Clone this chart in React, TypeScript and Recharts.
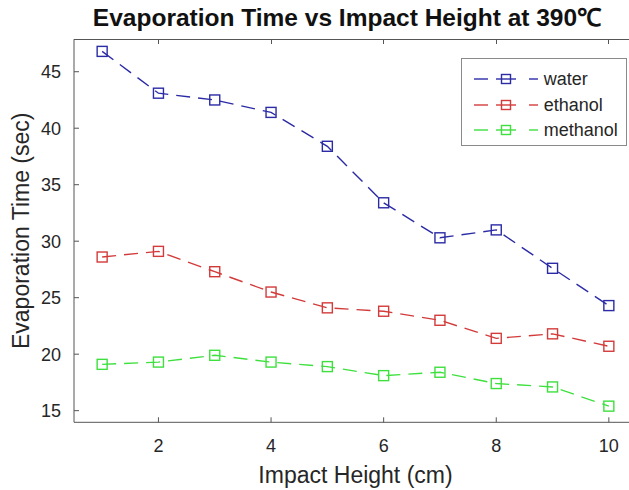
import { LineChart, Line, XAxis, YAxis, Legend } from 'recharts';

const heights = [1, 2, 3, 4, 5, 6, 7, 8, 9, 10];
const water = [46.8, 43.1, 42.5, 41.4, 38.4, 33.4, 30.3, 31.0, 27.6, 24.3];
const ethanol = [28.6, 29.1, 27.3, 25.5, 24.1, 23.8, 23.0, 21.4, 21.8, 20.7];
const methanol = [19.1, 19.3, 19.9, 19.3, 18.9, 18.1, 18.4, 17.4, 17.1, 15.4];

const xTicks = [2, 4, 6, 8, 10];
const yTicks = [15, 20, 25, 30, 35, 40, 45];

const X_DOMAIN = [0.5, 10.5];
const Y_DOMAIN = [13.97, 47.87];

const series = [
  { key: 'water', color: '#2b2ba6' },
  { key: 'ethanol', color: '#d33b3b' },
  { key: 'methanol', color: '#3ee03e' },
];

const data = heights.map((h, i) => ({
  h,
  water: water[i],
  ethanol: ethanol[i],
  methanol: methanol[i],
}));

const FONT = '"Liberation Sans", Arial, Helvetica, sans-serif';
const AXIS = '#555';
const TEXT = '#262626';
const DASH = '14 8';

const CHART_W = 666.5;
const PLOT_TOP = 39.3;
const LEFT_W = 74;
const RIGHT_W = 29.5;
const PLOT_W = CHART_W - LEFT_W - RIGHT_W;

// hollow square marker, line shows through like matlab 's'
const Square = (color: string) => (props: any) => {
  const { cx, cy, index } = props;
  if (cx == null || cy == null) return <g key={index} />;
  return (
    <rect
      key={index}
      x={cx - 5}
      y={cy - 5}
      width={10}
      height={10}
      fill="none"
      stroke={color}
      strokeWidth={1.4}
    />
  );
};

const LegendBox = () => (
  <div
    style={{
      position: 'relative',
      width: 166,
      height: 88,
      border: '1px solid #8a8a8a',
      background: '#fff',
      fontFamily: FONT,
      fontSize: 18,
      color: TEXT,
      boxSizing: 'border-box',
    }}>
    {series.map((s, i) => (
      <div
        key={s.key}
        style={{ position: 'absolute', top: 9 + i * 25.4, left: 0, height: 22, display: 'flex', alignItems: 'center' }}>
        <svg width={82} height={22}>
          <line x1={12} y1={11} x2={26} y2={11} stroke={s.color} strokeWidth={1.4} />
          <line x1={34} y1={11} x2={54} y2={11} stroke={s.color} strokeWidth={1.4} />
          <line x1={67} y1={11} x2={76} y2={11} stroke={s.color} strokeWidth={1.4} />
          <rect x={39.5} y={6.5} width={9} height={9} fill="none" stroke={s.color} strokeWidth={1.4} />
        </svg>
        <span style={{ lineHeight: '22px' }}>{s.key}</span>
      </div>
    ))}
  </div>
);

// top edge of the matlab box with inward ticks (html border so it always shows)
const TopFrame = () => {
  const tx = (t: number) => LEFT_W + ((t - X_DOMAIN[0]) / (X_DOMAIN[1] - X_DOMAIN[0])) * PLOT_W;
  return (
    <div style={{ position: 'absolute', left: 0, top: 0, width: CHART_W, height: 50, zIndex: 10, pointerEvents: 'none' }}>
      <div
        style={{
          position: 'absolute',
          left: LEFT_W - 0.5,
          top: 39,
          width: PLOT_W,
          height: 0,
          borderTop: `1px solid ${AXIS}`,
        }}
      />
      {xTicks.map((t) => (
        <div
          key={t}
          style={{ position: 'absolute', left: tx(t) - 0.5, top: 39, width: 1, height: 5, background: AXIS }}
        />
      ))}
    </div>
  );
};

export default function App() {
  return (
    <div style={{ position: 'absolute', left: 0, top: 0, width: 629, height: 490, overflow: 'hidden', background: '#fff' }}>
      <div
        style={{
          position: 'absolute',
          left: 0,
          width: 694,
          top: 6,
          textAlign: 'center',
          fontFamily: FONT,
          fontWeight: 'bold',
          fontSize: 24.5,
          lineHeight: '24px',
          color: '#111',
          whiteSpace: 'nowrap',
        }}>
        Evaporation Time vs Impact Height at 390℃
      </div>
      <LineChart
        width={CHART_W}
        height={490}
        data={data}
        margin={{ top: PLOT_TOP, right: RIGHT_W, bottom: 0, left: 0 }}
        style={{ fontFamily: FONT }}>
        <XAxis
          dataKey="h"
          type="number"
          domain={X_DOMAIN}
          ticks={xTicks}
          allowDataOverflow
          height={67.7}
          stroke={AXIS}
          tickSize={-5}
          tickMargin={21.6}
          tick={{ fill: TEXT, fontSize: 18 }}
          label={{ value: 'Impact Height (cm)', position: 'insideBottom', offset: 6.7, fill: TEXT, fontSize: 23 }}
        />
        <YAxis
          type="number"
          domain={Y_DOMAIN}
          ticks={yTicks}
          allowDataOverflow
          width={LEFT_W}
          stroke={AXIS}
          tickSize={-5}
          tickMargin={18}
          tick={{ fill: TEXT, fontSize: 18 }}
          label={{
            value: 'Evaporation Time (sec)',
            angle: -90,
            position: 'insideLeft',
            offset: 21,
            fill: TEXT,
            fontSize: 23,
            style: { textAnchor: 'middle' },
          }}
        />
        <Legend
          layout="horizontal"
          align="center"
          verticalAlign="middle"
          wrapperStyle={{ left: 460.7, top: 58.3, width: 166, height: 88 }}
          content={() => <LegendBox />}
        />
        {series.map((s) => (
          <Line
            key={s.key}
            dataKey={s.key}
            stroke={s.color}
            strokeWidth={1.4}
            strokeDasharray={DASH}
            dot={Square(s.color)}
            activeDot={false}
            isAnimationActive={false}
          />
        ))}
      </LineChart>
      <TopFrame />
    </div>
  );
}
